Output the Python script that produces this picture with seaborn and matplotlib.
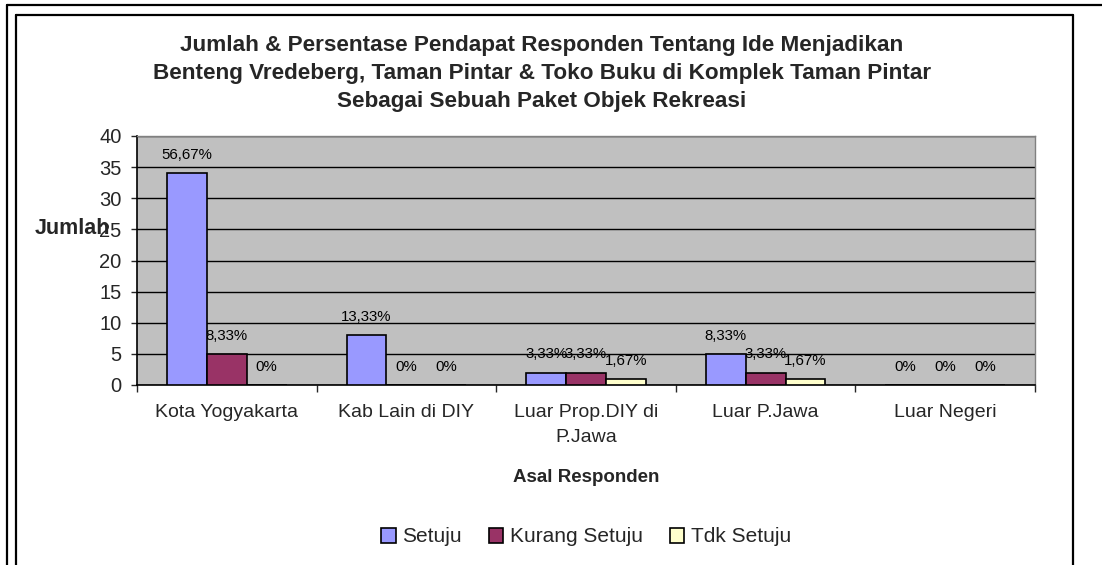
import matplotlib
matplotlib.use("Agg")
import matplotlib.pyplot as plt
import seaborn as sns
import pandas as pd
from matplotlib.lines import Line2D
from matplotlib.patches import Patch

# ---- data ----
categories = ["Kota Yogyakarta", "Kab Lain di DIY", "Luar Prop.DIY di\nP.Jawa", "Luar P.Jawa", "Luar Negeri"]
series_names = ["Setuju", "Kurang Setuju", "Tdk Setuju"]
setuju = [34, 8, 2, 5, 0]
kurang_setuju = [5, 0, 2, 2, 0]
tdk_setuju = [0, 0, 1, 1, 0]
label_setuju = ["56,67%", "13,33%", "3,33%", "8,33%", "0%"]
label_kurang = ["8,33%", "0%", "3,33%", "3,33%", "0%"]
label_tdk = ["0%", "0%", "1,67%", "1,67%", "0%"]
y_ticks = [0, 5, 10, 15, 20, 25, 30, 35, 40]
title_lines = [
    "Jumlah & Persentase Pendapat Responden Tentang Ide Menjadikan",
    "Benteng Vredeberg, Taman Pintar & Toko Buku di Komplek Taman Pintar",
    "Sebagai Sebuah Paket Objek Rekreasi",
]
x_title = "Asal Responden"
y_title = "Jumlah"
colors = {"Setuju": "#9999FF", "Kurang Setuju": "#993366", "Tdk Setuju": "#FFFFCC"}

df = pd.DataFrame({
    "Asal": categories * 3,
    "Pendapat": [series_names[0]] * 5 + [series_names[1]] * 5 + [series_names[2]] * 5,
    "Jumlah": setuju + kurang_setuju + tdk_setuju,
})

sns.set_style("white")
plt.rcParams["font.family"] = ["Liberation Sans", "DejaVu Sans"]

W, H = 1102, 565
fig = plt.figure(figsize=(W / 100, H / 100), dpi=100)

def px(x, y):
    return x / W, 1 - y / H

# plot area in pixels
L, R, T, B = 137, 1035, 136, 385
ax = fig.add_axes([L / W, 1 - B / H, (R - L) / W, (B - T) / H])
ax.set_facecolor("#C0C0C0")

sns.barplot(data=df, x="Asal", y="Jumlah", hue="Pendapat", order=categories,
            hue_order=series_names, palette=colors, width=0.667, gap=0,
            edgecolor="black", linewidth=1.2, saturation=1, legend=False, ax=ax, zorder=3)

for cont, labs in zip(ax.containers, [label_setuju, label_kurang, label_tdk]):
    ax.bar_label(cont, labels=labs, padding=8, fontsize=10.8, color="black", zorder=2)

ax.set_ylim(0, 40)
ax.set_xlim(-0.5, 4.5)
ax.set_yticks(y_ticks)
ax.set_yticklabels([str(v) for v in y_ticks], fontsize=14.5)
ax.yaxis.grid(True, color="black", linewidth=1, zorder=1)
ax.set_axisbelow(True)
ax.tick_params(axis="y", length=4, width=1, pad=7, left=True, direction="out")

ax.set_xticks([-0.5, 0.5, 1.5, 2.5, 3.5, 4.5])
ax.set_xticklabels([""] * 6)
ax.set_xticks(range(5), minor=True)
ax.set_xticklabels(categories, minor=True, fontsize=14, linespacing=1.55)
ax.tick_params(axis="x", which="major", length=5, width=1, direction="out", bottom=True)
ax.tick_params(axis="x", which="minor", length=0, pad=14)
ax.set_xlabel("")
ax.set_ylabel("")

for s in ["left", "bottom"]:
    ax.spines[s].set_color("black")
    ax.spines[s].set_linewidth(1.2)
for s in ["top", "right"]:
    ax.spines[s].set_color("#808080")
    ax.spines[s].set_linewidth(1)

# titles
for i, line in enumerate(title_lines):
    x, y = px(542, 46 + i * 28)
    fig.text(x, y, line, ha="center", va="center", fontsize=16.2, fontweight="bold")

x, y = px(586, 478)
fig.text(x, y, x_title, ha="center", va="center", fontsize=13.5, fontweight="bold")
x, y = px(35, 228)
fig.text(x, y, y_title, ha="left", va="center", fontsize=15.5, fontweight="bold")

# legend
handles = [Patch(facecolor=colors[n], edgecolor="black", linewidth=1.2, label=n) for n in series_names]
x, y = px(586, 537)
fig.legend(handles=handles, loc="center", bbox_to_anchor=(x, y), ncol=3, frameon=False,
           fontsize=15, handlelength=0.7, handleheight=0.7, handletextpad=0.3, columnspacing=1.3)

# frames
def line(xs, ys, lw=1.6):
    fig.add_artist(Line2D([a / W for a in xs], [1 - b / H for b in ys], color="black", linewidth=lw))

line([7, 7], [5, 565])
line([7, 1102], [5, 5])
line([16, 16], [15, 565])
line([16, 1073], [15, 15])
line([1073, 1073], [15, 565])

fig.savefig("out.png", dpi=100)
